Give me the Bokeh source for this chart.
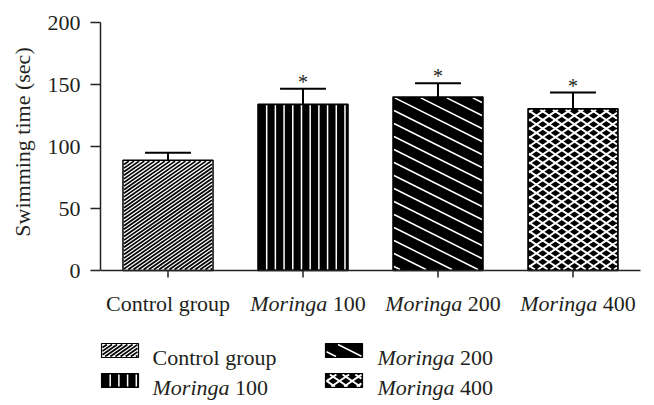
import math
from bokeh.plotting import figure
from bokeh.layouts import column
from bokeh.models import Range1d, FixedTicker
from bokeh.core.properties import value
from bokeh.embed import file_html
from bokeh.resources import INLINE

# ---- data ----
groups = ["Control group", "Moringa 100", "Moringa 200", "Moringa 400"]
label_italic = ["", "Moringa", "Moringa", "Moringa"]
label_plain = ["Control group", "100", "200", "400"]
means = [89, 134, 140, 130.5]
errors = [6, 12.5, 11, 13]
significant = [False, True, True, True]
y_ticks = [0, 50, 100, 150, 200]
Y_MAX = 200

# ---- styles ----
FONT = "Liberation Serif"
TXT = "#231f20"
AX = "#222222"
EM = 22
FS = f"{EM}px"

fills = ["white", "black", "black", "black"]
hatch_cols = ["black", "white", "white", "white"]
# hatch families: (slope in screen px, vertical period px); None slope = vertical lines
hatch_fams = [
    [(0.7, 3.6)],                   # control: fine up-right diagonals
    [(None, 8.7)],                  # Moringa 100: vertical lines
    [(-0.5, 13.0)],                 # Moringa 200: down-right diagonals
    [(0.677, 8.6), (-0.677, 8.6)],  # Moringa 400: diamond lattice
]
hatch_w = [1.7, 1.5, 1.5, 2.0]

# ---- layout (page pixels) ----
W = 650
HA, HB = 283, 119              # chart panel / label+legend panel heights
FL, FR = 100, W - 2            # frame left / right (both panels)
Y0, YTOP = 270, 22             # pixel rows of y = 0 and y = Y_MAX
PX_Y = (Y0 - YTOP) / Y_MAX     # px per y unit
PX_X = 135.0                   # px per category
X_START = -0.5
BAR_W = 0.667

def y_at(py):
    return (Y0 - py) / PX_Y

def x_at(px):
    return X_START + (px - FL) / PX_X

def yb(py):
    """y in the lower panel (1 unit = 1 px, upward) for a page row."""
    return (HA + HB) - py

def hatch_segments(left, right, bottom, top, fams, kx, ky, inset=1.0):
    """Hatch line segments (data units) clipped to a rectangle; kx, ky = px per unit."""
    ua, ub = left * kx + inset, right * kx - inset
    va, vb = bottom * ky + inset, top * ky - inset
    out = []
    for m, P in fams:
        if m is None:
            u = left * kx + P
            while u < ub - 0.5:
                out.append((u / kx, va / ky, u / kx, vb / ky))
                u += P
            continue
        cs = [v - m * u for u in (ua, ub) for v in (va, vb)]
        for k in range(math.floor(min(cs) / P), math.ceil(max(cs) / P) + 1):
            c = k * P
            u1, u2 = (va - c) / m, (vb - c) / m
            lo, hi = max(ua, min(u1, u2)), min(ub, max(u1, u2))
            if hi - lo > 0.3:
                out.append((lo / kx, (m * lo + c) / ky, hi / kx, (m * hi + c) / ky))
    return out

def patterned_box(fig, left, right, bottom, top, i, lw, kx, ky):
    fig.quad(left=[left], right=[right], bottom=[bottom], top=[top],
             fill_color=fills[i], line_color=None)
    segs = hatch_segments(left, right, bottom, top, hatch_fams[i], kx, ky)
    if segs:
        x0, y0, x1, y1 = zip(*segs)
        fig.segment(x0=list(x0), y0=list(y0), x1=list(x1), y1=list(y1),
                    line_color=hatch_cols[i], line_width=hatch_w[i])
    fig.quad(left=[left], right=[right], bottom=[bottom], top=[top],
             fill_color=None, line_color="black", line_width=lw)

# ================= chart panel =================
p = figure(width=W, height=HA, output_backend="svg", toolbar_location=None,
           x_range=Range1d(X_START, x_at(FR)), y_range=Range1d(y_at(HA), y_at(0)),
           x_axis_location=None,
           min_border_left=FL, min_border_right=W - FR, min_border_top=0,
           min_border_bottom=0)
p.outline_line_color = None
p.xgrid.grid_line_color = None
p.ygrid.grid_line_color = None

xs = list(range(len(groups)))
n = len(groups)
for i in xs:
    patterned_box(p, xs[i] - BAR_W / 2, xs[i] + BAR_W / 2, 0, means[i], i, 1.5, PX_X, PX_Y)

# x baseline and ticks
p.segment(x0=[X_START], y0=[0], x1=[n - 0.5], y1=[0], line_color=AX, line_width=1.5)
p.segment(x0=xs, y0=[0] * n, x1=xs, y1=[y_at(Y0 + 7)] * n, line_color=AX, line_width=1.5)

# error bars (upper only)
err_top = [m + e for m, e in zip(means, errors)]
cap = 0.17
p.segment(x0=xs, y0=means, x1=xs, y1=err_top, line_color="black", line_width=2)
p.segment(x0=[x - cap for x in xs], y0=err_top, x1=[x + cap for x in xs], y1=err_top,
          line_color="black", line_width=2)

# significance stars
sx = [xs[i] for i in xs if significant[i]]
sy = [err_top[i] + 7 / PX_Y for i in xs if significant[i]]
p.text(x=sx, y=sy, text=["*"] * len(sx), text_align="center", text_baseline="alphabetic",
       text_font=value(FONT), text_font_size="20px", text_color=TXT)

# y axis
ya = p.yaxis[0]
ya.bounds = (0, Y_MAX)
ya.ticker = FixedTicker(ticks=y_ticks)
ya.axis_line_color = AX
ya.axis_line_width = 1.5
ya.major_tick_line_color = AX
ya.major_tick_line_width = 1.5
ya.minor_tick_line_color = None
ya.major_tick_in = 0
ya.major_tick_out = 10
ya.major_label_standoff = 10
ya.major_label_text_font = FONT
ya.major_label_text_font_size = FS
ya.major_label_text_color = TXT
ya.axis_label = "Swimming time (sec)"
ya.axis_label_text_font = FONT
ya.axis_label_text_font_style = "normal"
ya.axis_label_text_font_size = FS
ya.axis_label_text_color = TXT
ya.axis_label_standoff = 10

# ================= labels + legend panel (frame aligned with chart) =================
q = figure(width=W, height=HB, output_backend="svg", toolbar_location=None,
           x_range=Range1d(X_START, x_at(FR)), y_range=Range1d(0, HB),
           x_axis_location=None, y_axis_location=None,
           min_border_left=FL, min_border_right=W - FR, min_border_top=0, min_border_bottom=0)
q.outline_line_color = None
q.xgrid.grid_line_color = None
q.ygrid.grid_line_color = None

it_w = 3.5 * EM   # width of italic "Moringa"
sp = 0.25 * EM    # space width

def mixed_text(fig, x, y, i, center, extra=0):
    """Label with italic genus name followed by plain dose."""
    if label_italic[i]:
        total = it_w + sp + 1.5 * EM
        left = -total / 2 + extra if center else 0
        fig.text(x=[x], y=[y], text=[label_italic[i]], x_offset=left, text_align="left",
                 text_baseline="alphabetic", text_font=value(FONT), text_font_style="italic",
                 text_font_size=FS, text_color=TXT)
        fig.text(x=[x], y=[y], text=[label_plain[i]], x_offset=left + it_w + sp,
                 text_align="left", text_baseline="alphabetic", text_font=value(FONT),
                 text_font_size=FS, text_color=TXT)
    else:
        fig.text(x=[x], y=[y], text=[label_plain[i]], text_align="center" if center else "left",
                 text_baseline="alphabetic", text_font=value(FONT), text_font_size=FS,
                 text_color=TXT)

# x tick labels
for i in xs:
    mixed_text(q, xs[i], yb(303), i, True, extra=5 if label_italic[i] else 0)

# legend (2 columns x 2 rows; column-major order)
sw_left = [101, 101, 325, 325]
row_mid = [350, 380, 350, 380]
txt_left = [152, 152, 377, 377]
for i in xs:
    patterned_box(q, x_at(sw_left[i]), x_at(sw_left[i] + 37),
                  yb(row_mid[i] + 7), yb(row_mid[i] - 7), i, 1.2, PX_X, 1.0)
    mixed_text(q, x_at(txt_left[i]), yb(row_mid[i] + 7), i, False)

layout = column(p, q, spacing=0)
open("out.html", "w").write(file_html(layout, INLINE))
